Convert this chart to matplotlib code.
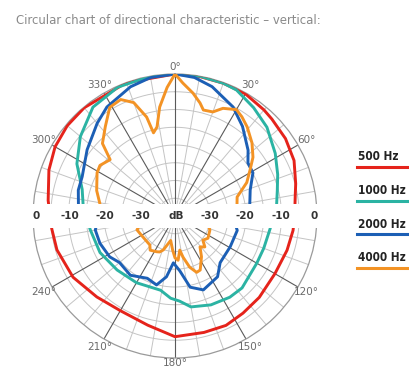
import numpy as np
import matplotlib.pyplot as plt
from matplotlib import font_manager as fm
from matplotlib.patches import Rectangle
from matplotlib.lines import Line2D

title = "Circular chart of directional characteristic \u2013 vertical:"
freqs = ["500 Hz", "1000 Hz", "2000 Hz", "4000 Hz"]
colors = ["#e5231b", "#2bb3a3", "#1c5fb5", "#f39325"]

# angle (deg, clockwise from top) / level (dB)
red_ang = [0, 10, 20, 30, 40, 45, 55, 65, 75, 80, 90, 97, 107, 120, 134, 145, 155, 166, 180,
           194, 210, 224, 239, 254, 264, 277, 290, 300, 310, 320, 340, 360]
red_db = [0, -0.1, -0.2, -0.3, -1.0, -1.4, -2.0, -3.0, -4.8, -5.6, -6.3, -6.5, -7.0, -7.5, -7.0,
          -6.6, -6.0, -6.2, -6.0, -8.3, -9.2, -8.3, -6.5, -5.4, -5.1, -4.0, -2.2, -1.0, -0.4,
          -0.2, 0, 0]

teal_ang = [0, 10, 20, 26, 36, 46, 58, 68, 76, 85, 98, 110, 120, 137, 146, 158, 170, 177, 183,
            191, 210, 227, 244, 261, 276, 286, 298, 310, 323, 336, 350, 360]
teal_db = [0, 0, -0.2, -0.5, -2.3, -4.0, -6.7, -8.8, -10.3, -11.3, -13.0, -13.4, -13.4, -12.3,
           -12.4, -13.0, -14.0, -16.0, -16.8, -18.7, -18.3, -17.7, -16.5, -15.8, -14.0, -12.8,
           -8.7, -5.2, -1.6, -0.3, 0, 0]

blue_ang = [0, 8, 16, 28, 37, 48, 54, 61, 71, 85, 97, 103, 119, 136, 145, 159, 168, 175, 182,
            188, 195, 204, 217, 230, 238, 250, 260, 265, 275, 285, 293, 307, 320, 328, 341, 350,
            360]
blue_db = [0, -0.6, -2.1, -5.2, -8.4, -12.3, -14.6, -14.9, -17.6, -18.9, -23.0, -22.0, -22.2,
           -21.7, -19.1, -17.7, -19.5, -24.5, -26.8, -22.7, -19.9, -20.8, -19.1, -19.6, -18.3,
           -17.5, -17.2, -18.0, -12.7, -11.8, -11.6, -9.0, -5.9, -3.8, -1.5, -0.4, 0]

orange_ang = [0, 3.4, 8.3, 12.5, 15, 20, 24, 30, 34, 39, 46.5, 53, 58.5, 65, 73, 85, 97, 112,
              124, 131, 136, 141, 147, 155, 159, 164, 169, 172, 176, 180, 184, 190, 199, 203,
              207, 216, 221, 237, 250, 263, 277, 288, 299, 304, 311, 315, 322, 329, 335, 340,
              344, 345.5, 348.6, 352, 356.5, 360]
orange_db = [0, -2.5, -5.0, -7.4, -9.1, -8.8, -6.8, -5.4, -6.3, -7.7, -10.1, -12.5, -15.2,
             -17.7, -21.7, -22.5, -31.0, -29.4, -28.8, -29.6, -27.9, -28.8, -26.3, -23.2, -23.0,
             -25.0, -28.2, -30.3, -27.5, -28.2, -30.4, -33.0, -29.9, -29.0, -28.7, -28.1, -29.2,
             -29.2, -28.6, -31.0, -18.9, -16.8, -14.9, -14.5, -15.8, -11.1, -8.1, -4.3, -3.8,
             -6.0, -11.0, -15.8, -14.4, -9.0, -3.7, 0]

angle_labels = [0, 30, 60, 120, 150, 180, 210, 240, 300, 330]
db_labels = [0, -10, -20, -30]


def find_narrow(bold=False):
    for f in fm.fontManager.ttflist:
        n = f.fname.lower()
        if ("narrow" in n or "condensed" in n) and "italic" not in n and "oblique" not in n:
            isbold = "bold" in n
            if isbold == bold:
                return fm.FontProperties(fname=f.fname)
    return None


narrow = find_narrow(False)
narrow_bold = find_narrow(True)

W, H = 410, 371
cx, cy, R = 175, 216, 142
fig = plt.figure(figsize=(W / 100, H / 100), dpi=100)
ax = fig.add_axes([(cx - R) / W, (H - cy - R) / H, 2 * R / W, 2 * R / H], projection="polar")
ax.set_theta_zero_location("N")
ax.set_theta_direction(-1)
ax.set_ylim(-40, 0)
ax.set_xticks([])
ax.set_yticks([])
ax.grid(False)
ax.spines["polar"].set_color("#9a9a9a")
ax.spines["polar"].set_linewidth(0.9)

# grid
th = np.linspace(0, 2 * np.pi, 721)
for v in range(-35, 0, 5):
    ax.plot(th, np.full_like(th, v), color="#c4c4c4", lw=0.7, zorder=1)
for a in range(0, 360, 10):
    major = a % 30 == 0
    ax.plot([np.deg2rad(a)] * 2, [-40, 0], color="#5a5a5a" if major else "#c4c4c4",
            lw=0.8 if major else 0.7, zorder=1)

series = [(red_ang, red_db), (teal_ang, teal_db), (blue_ang, blue_db), (orange_ang, orange_db)]
for (ang, db), c in zip(series, colors):
    ax.plot(np.deg2rad(ang), db, color=c, lw=2.1, zorder=3, solid_joinstyle="round")

for a in angle_labels:
    rr = 1.3 if a == 180 else (2.1 if a == 0 else 2.6)
    ax.text(np.deg2rad(a), rr, f"{a}\u00b0", ha="center", va="center", fontsize=7.5,
            color="#6a6a6a", clip_on=False)

# white band with level labels
fig.add_artist(Rectangle((0.04, 1 - 228 / H), 0.78, 24 / H, transform=fig.transFigure,
                         facecolor="white", edgecolor="none", zorder=5))
scale = R / 40
ys = 1 - cy / H
for v in db_labels:
    off = (v + 40) * scale - (3 if v == 0 else 1)
    for s in (-1, 1):
        fig.text((cx + s * off) / W, ys, str(v), ha="center", va="center", fontsize=7.5,
                 fontweight="bold", color="#333333", zorder=6)
fig.text((cx + 1) / W, ys, "dB", ha="center", va="center", fontsize=7.5, fontweight="bold",
         color="#333333", zorder=6)

# legend
for i, (name, c) in enumerate(zip(freqs, colors)):
    yt = 157 + i * 33.5
    kw = {"fontproperties": narrow_bold} if narrow_bold is not None else {"fontweight": "bold"}
    t = fig.text(358 / W, 1 - yt / H, name, ha="left", va="center", color="#222222", **kw)
    t.set_fontsize(8.5 if narrow_bold is not None else 8)
    fig.add_artist(Line2D([357 / W, 1.0], [1 - (yt + 10) / H] * 2, color=c, lw=2.2,
                          transform=fig.transFigure))

if narrow is not None:
    tt = fig.text(16 / W, 1 - 20 / H, title, ha="left", va="center", color="#8a8a8a",
                  fontproperties=narrow)
    tt.set_fontsize(9.4)
else:
    fig.text(16 / W, 1 - 20 / H, title, ha="left", va="center", fontsize=8.6, color="#8a8a8a")

fig.savefig("out.png", dpi=100)
